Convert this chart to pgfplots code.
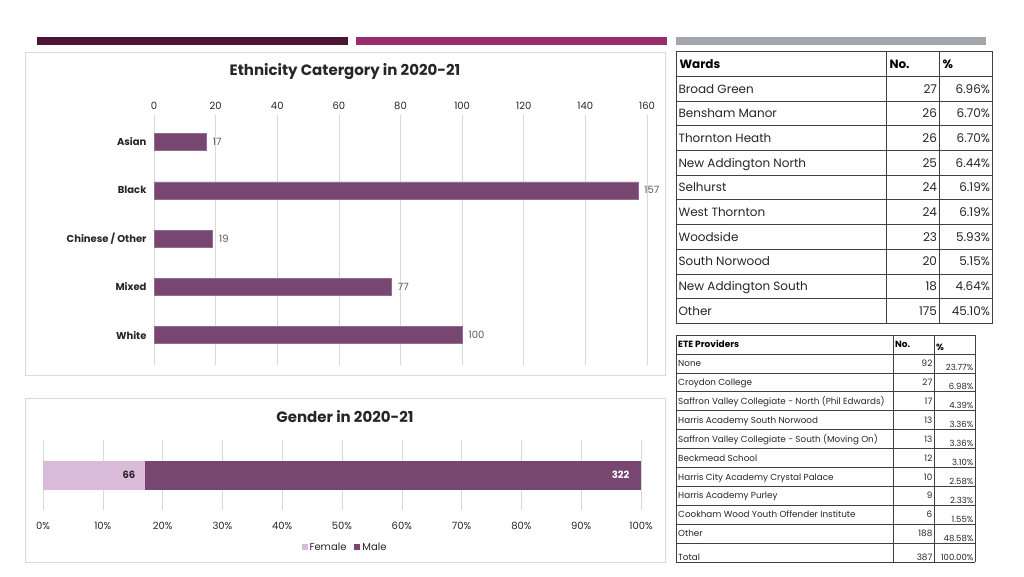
\documentclass[border=0pt]{standalone}
\usepackage{pgfplots}
\pgfplotsset{compat=1.18}
\usepackage{fontspec}
\setmainfont{Poppins}
\definecolor{barc}{HTML}{774772}
\definecolor{fem}{HTML}{DABAD9}
\definecolor{barA}{HTML}{4B1533}
\definecolor{barB}{HTML}{982C6B}
\definecolor{barG}{HTML}{A3A6AA}
\definecolor{frm}{HTML}{D9D9D9}
\definecolor{txt}{HTML}{262626}
\definecolor{vtxt}{HTML}{595959}
\definecolor{tline}{HTML}{404040}
\newcommand\fs[1]{\fontsize{#1}{#1}\selectfont}
\begin{document}
\begin{tikzpicture}[x=1pt,y=1pt]
\useasboundingbox[fill=white] (0,0) rectangle (1024,576);
\begin{scope}[shift={(0,576)},y=-1pt]
  % top bars
  \fill[barA] (37,37) rectangle (348,45);
  \fill[barB] (356,37) rectangle (667,45);
  \fill[barG] (676,37) rectangle (986,45);
  % frames
  \draw[frm,line width=0.8pt] (25,52) rectangle (665,375);
  \draw[frm,line width=0.8pt] (25,398) rectangle (665,562);
  \node[font=\fs{15}\bfseries,text=txt] at (345,72) {Ethnicity Catergory in 2020-21};
  \node[font=\fs{15}\bfseries,text=txt] at (345,417) {Gender in 2020-21};
  % Wards table
  \foreach \i in {0,...,11} {\draw[tline,line width=0.7pt] (676,51.7+24.69*\i) -- (992.7,51.7+24.69*\i);}
  \foreach \c in {676,886.7,939.3,992.7} {\draw[tline,line width=0.7pt] (\c,51.7) -- (\c,323.3);}
  \node[font=\fs{12}\bfseries,text=black,anchor=base west] at (676,68.2) {Wards};
  \node[font=\fs{12}\bfseries,text=black,anchor=base west] at (886,68.2) {No.};
  \node[font=\fs{12}\bfseries,text=black,anchor=base west] at (939,68.2) {\%};
  \foreach \n/\a/\b [count=\i] in {Broad Green/27/6.96\%,Bensham Manor/26/6.70\%,Thornton Heath/26/6.70\%,New Addington North/25/6.44\%,Selhurst/24/6.19\%,West Thornton/24/6.19\%,Woodside/23/5.93\%,South Norwood/20/5.15\%,New Addington South/18/4.64\%,Other/175/45.10\%} {
    \pgfmathsetmacro\yb{51.7+24.69*\i+12.35+4.3}
    \node[font=\fs{12},text=txt,anchor=base west] at (675,\yb) {\n};
    \node[font=\fs{12},text=txt,anchor=base east] at (940.5,\yb) {\a};
    \node[font=\fs{12},text=txt,anchor=base east] at (993.5,\yb) {\b};
  }
  % ETE table
  \foreach \i in {0,...,12} {\draw[tline,line width=0.7pt] (676,335+18.94*\i) -- (975,335+18.94*\i);}
  \foreach \c in {676,893.3,934.3,975} {\draw[tline,line width=0.7pt] (\c,335) -- (\c,562.3);}
  \node[font=\fs{9}\bfseries,text=black,anchor=base west,inner sep=0pt] at (678,347.5) {ETE Providers};
  \node[font=\fs{9}\bfseries,text=black,anchor=base west,inner sep=0pt] at (895,347.5) {No.};
  \node[font=\fs{9}\bfseries,text=black,anchor=base west,inner sep=0pt] at (936,350) {\%};
  \foreach \n/\a/\b [count=\i] in {None/92/23.77\%,Croydon College/27/6.98\%,Saffron Valley Collegiate - North (Phil Edwards)/17/4.39\%,Harris Academy South Norwood/13/3.36\%,Saffron Valley Collegiate - South (Moving On)/13/3.36\%,Beckmead School/12/3.10\%,Harris City Academy Crystal Palace/10/2.58\%,Harris Academy Purley/9/2.33\%,Cookham Wood Youth Offender Institute/6/1.55\%,Other/188/48.58\%} {
    \pgfmathsetmacro\yc{335+18.94*\i+9.47}
    \node[font=\fs{8.8},text=txt,anchor=base west,inner sep=0pt] at (678,\yc+3) {\n};
    \node[font=\fs{8.8},text=txt,anchor=base east,inner sep=0pt] at (932.5,\yc+3) {\a};
    \node[font=\fs{8.5},text=txt,anchor=base east,inner sep=0pt] at (973.5,\yc+7.5) {\b};
  }
  \node[font=\fs{8.8},text=txt,anchor=base west,inner sep=0pt] at (678,560) {Total};
  \node[font=\fs{8.8},text=txt,anchor=base east,inner sep=0pt] at (932.5,560) {387};
  \node[font=\fs{8.5},text=txt,anchor=base east,inner sep=0pt] at (973.5,560) {100.00\%};
\end{scope}

% Ethnicity chart
\begin{axis}[at={(154pt,211pt)},anchor=south west,scale only axis,
  width=493pt,height=250pt,
  xbar,bar width=17pt,
  xmin=0,xmax=160,ymin=-0.56,ymax=4.62,y dir=reverse,
  ytick={0,1,2,3,4},yticklabels={Asian,Black,Chinese / Other,Mixed,White},
  xtick={0,20,...,160},xticklabel pos=upper,
  axis line style={draw=none},major tick length=0pt,
  xmajorgrids,grid style={color=frm,line width=0.6pt},
  /pgf/number format/assume math mode=true,
  xticklabel style={font=\fs{10},text=txt,yshift=2pt},
  yticklabel style={font=\fs{10}\bfseries,text=txt,xshift=-4pt},
  nodes near coords,
  every node near coord/.append style={font=\fs{10},text=vtxt,xshift=3pt},
]
\addplot[fill=barc,draw=barc!80!white,line width=0.5pt] coordinates {(17,0) (157,1) (19,2) (77,3) (100,4)};
\end{axis}

% Gender chart
\begin{axis}[at={(43pt,66pt)},anchor=south west,scale only axis,
  width=598pt,height=70pt,
  xbar stacked,bar width=29pt,
  xmin=0,xmax=100,ymin=-1,ymax=1,
  ytick=\empty,
  xtick={0,10,...,100},xticklabel={\pgfmathprintnumber{\tick}\%},
  axis line style={draw=none},major tick length=0pt,
  xmajorgrids,grid style={color=frm,line width=0.6pt},
  /pgf/number format/assume math mode=true,
  xticklabel style={font=\fs{10},text=txt,yshift=-9pt},
  point meta=explicit,
  nodes near coords={\pgfmathprintnumber{\pgfplotspointmeta}},
  legend style={at={(0.505,-0.53)},anchor=center,draw=none,fill=none,legend columns=2,
    font=\fs{10},text=txt,
    /tikz/every even column/.append style={column sep=6pt}},
  legend image code/.code={\fill[#1] (0pt,-3pt) rectangle (6pt,3pt);},
]
\addplot[fill=fem,draw=none,nodes near coords style={anchor=east,font=\fs{10}\bfseries,text=txt,xshift=45pt}] coordinates {(17.01,0) [66]};
\addlegendentry{Female}
\addplot[fill=barc,draw=none,nodes near coords style={anchor=east,font=\fs{10}\bfseries,text=white,xshift=240pt}] coordinates {(82.99,0) [322]};
\addlegendentry{Male}
\end{axis}
\end{tikzpicture}
\end{document}
